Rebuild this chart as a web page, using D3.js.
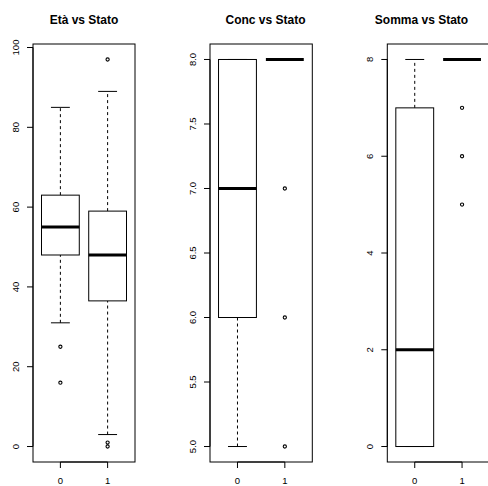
<!DOCTYPE html>
<html><head><meta charset="utf-8">
<script src="https://cdn.jsdelivr.net/npm/d3@7"></script>
<style>body{margin:0;background:#fff}</style>
</head><body>
<svg id="c" width="488" height="486"></svg>
<script>
// ---- data ----
const groups = ["0", "1"];
const titles = ["Età vs Stato", "Conc vs Stato", "Somma vs Stato"];
// stats per group: [lower whisker, Q1, median, Q3, upper whisker]
const etaStats = [[31, 48, 55, 63, 85], [3, 36.5, 48, 59, 89]];
const etaOut = [[25, 16], [97, 1, 0]];
const concStats = [[5, 6, 7, 8, 8], [8, 8, 8, 8, 8]];
const concOut = [[], [7, 6, 5]];
const sommaStats = [[0, 0, 2, 7, 8], [8, 8, 8, 8, 8]];
const sommaOut = [[], [7, 6, 5]];
const etaTicks = [0, 20, 40, 60, 80, 100];
const concTicks = [5.0, 5.5, 6.0, 6.5, 7.0, 7.5, 8.0];
const sommaTicks = [0, 2, 4, 6, 8];
const etaRange = [0, 97], concRange = [5, 8], sommaRange = [0, 8];

const panels = [
  {stats: etaStats, out: etaOut, ticks: etaTicks, range: etaRange, fmt: d3.format("d"), left: 33, right: 135, tx: 84},
  {stats: concStats, out: concOut, ticks: concTicks, range: concRange, fmt: d3.format(".1f"), left: 210, right: 312.3, tx: 265.5},
  {stats: sommaStats, out: sommaOut, ticks: sommaTicks, range: sommaRange, fmt: d3.format("d"), left: 387.3, right: 489.5, tx: 421.5}
];
const plotTop = 44, plotBottom = 462;
const svg = d3.select("#c");
const font = "Liberation Sans, Arial, Helvetica, sans-serif";

panels.forEach((p, i) => {
  const ext = (p.range[1] - p.range[0]) * 0.04;
  const y = d3.scaleLinear().domain([p.range[0] - ext, p.range[1] + ext]).range([plotBottom, plotTop]);
  const x = d3.scaleLinear().domain([0.42, 2.58]).range([p.left, p.right]);
  const g = svg.append("g");
  const bw = (x(1.4) - x(1));       // half box width (boxwex 0.8)
  const sw = bw / 2;                 // half staple width

  p.stats.forEach((s, gi) => {
    const cx = x(gi + 1);
    g.append("line").attr("x1", cx).attr("x2", cx).attr("y1", y(s[0])).attr("y2", y(s[1]))
      .attr("stroke", "#000").attr("stroke-dasharray", "3,3");
    g.append("line").attr("x1", cx).attr("x2", cx).attr("y1", y(s[3])).attr("y2", y(s[4]))
      .attr("stroke", "#000").attr("stroke-dasharray", "3,3");
    [s[0], s[4]].forEach(v => g.append("line").attr("x1", cx - sw).attr("x2", cx + sw)
      .attr("y1", y(v)).attr("y2", y(v)).attr("stroke", "#000"));
    g.append("rect").attr("x", cx - bw).attr("width", 2 * bw)
      .attr("y", y(s[3])).attr("height", Math.max(0, y(s[1]) - y(s[3])))
      .attr("fill", "#fff").attr("stroke", "#000");
    g.append("line").attr("x1", cx - bw).attr("x2", cx + bw).attr("y1", y(s[2])).attr("y2", y(s[2]))
      .attr("stroke", "#000").attr("stroke-width", 3);
    p.out[gi].forEach(v => g.append("circle").attr("cx", cx).attr("cy", y(v)).attr("r", 1.6)
      .attr("fill", "none").attr("stroke", "#000").attr("stroke-width", 1.1));
  });

  g.append("rect").attr("x", p.left).attr("y", plotTop).attr("width", p.right - p.left).attr("height", plotBottom - plotTop)
    .attr("fill", "none").attr("stroke", "#000");

  const ya = g.append("g");
  ya.append("line").attr("x1", p.left).attr("x2", p.left)
    .attr("y1", y(p.ticks[0])).attr("y2", y(p.ticks[p.ticks.length - 1])).attr("stroke", "#000");
  p.ticks.forEach(t => {
    ya.append("line").attr("x1", p.left - 6).attr("x2", p.left).attr("y1", y(t)).attr("y2", y(t)).attr("stroke", "#000");
    ya.append("text").attr("transform", `translate(${p.left - 14.5},${y(t)}) rotate(-90)`)
      .attr("text-anchor", "middle").attr("font-family", font).attr("font-size", 9.5).attr("fill", "#000")
      .text(p.fmt(t));
  });

  const xa = g.append("g");
  xa.append("line").attr("x1", x(1)).attr("x2", x(2)).attr("y1", plotBottom).attr("y2", plotBottom).attr("stroke", "#000");
  groups.forEach((c, gi) => {
    const cx = x(gi + 1);
    xa.append("line").attr("x1", cx).attr("x2", cx).attr("y1", plotBottom).attr("y2", plotBottom + 6).attr("stroke", "#000");
    xa.append("text").attr("x", cx).attr("y", 484).attr("text-anchor", "middle")
      .attr("font-family", font).attr("font-size", 9.5).attr("fill", "#000").text(c);
  });

  svg.append("text").attr("x", p.tx).attr("y", 24).attr("text-anchor", "middle")
    .attr("font-family", font).attr("font-size", 12).attr("font-weight", "bold").attr("fill", "#000")
    .text(titles[i]);
});
</script>
</body></html>
